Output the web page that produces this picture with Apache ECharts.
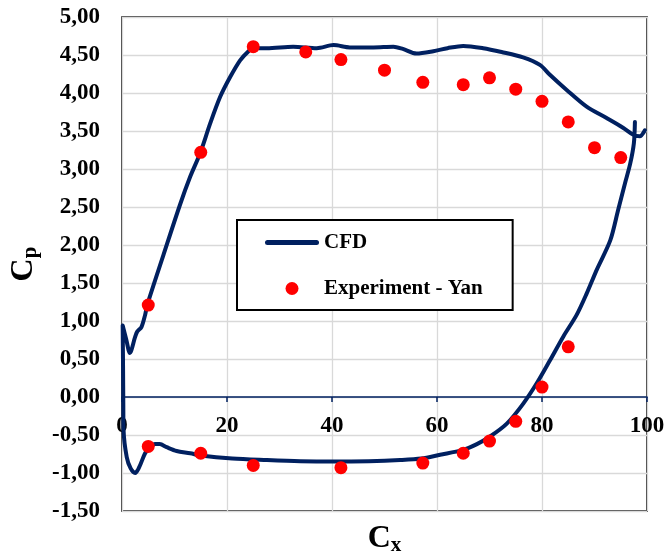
<!DOCTYPE html>
<html lang="en">
<head>
    <meta charset="UTF-8">
    <title>Cp - Cx</title>
    <script src="https://cdn.jsdelivr.net/npm/echarts@6/dist/echarts.min.js"></script>
    <style>
        body { margin: 0; background: #fff; }
        #main { width: 666px; height: 557px; }
    </style>
</head>
<body>
<div id="main"></div>
<script type="text/javascript">
    // CFD curve, upper side from trailing edge to leading edge
    const upperX = [99.6, 98.6, 97.4, 95.5, 92.3, 88.5, 84.7, 81.5, 79.6, 76.4, 72.3, 68.8, 65.0, 62.0, 59.3, 56.1, 53.5, 51.7, 47.9, 43.4,
        40.3, 37.1, 32.6, 27.6, 25.0, 24.1, 22.5, 20.6, 18.7, 16.8, 14.9, 13.0, 11.0, 7.9, 4.8, 4.4, 3.7, 2.9, 2.5, 1.5, 0.8, 0.13]
    const upperY = [3.51, 3.43, 3.45, 3.54, 3.67, 3.82, 4.04, 4.24, 4.37, 4.47, 4.54, 4.59, 4.62, 4.59, 4.55, 4.52, 4.58, 4.61, 4.60, 4.60,
        4.63, 4.59, 4.61, 4.59, 4.59, 4.55, 4.43, 4.21, 3.95, 3.60, 3.21, 2.90, 2.52, 1.87, 1.21, 1.08, 0.92, 0.86, 0.79, 0.58, 0.76, 0.94]
    // CFD curve, lower side from leading edge back to trailing edge
    const lowerX = [0.2, 0.25, 0.3, 0.9, 1.65, 2.5, 3.3, 4.4, 5.3, 6.3, 7.2, 8.5, 10.4, 13, 15, 21, 27.6, 34, 40, 47,
        53, 57, 60.6, 64.8, 67.6, 70.1, 73.3, 76.4, 79, 81.5, 84.1, 86.6, 88.5, 90.4, 93, 94.5, 95.8, 96.8, 97.5, 97.7]
    const lowerY = [0.40, -0.10, -0.44, -0.79, -0.94, -1.00, -0.92, -0.74, -0.66, -0.62, -0.62, -0.66, -0.71, -0.74, -0.77, -0.81, -0.83, -0.845, -0.85, -0.845,
        -0.83, -0.81, -0.76, -0.70, -0.62, -0.52, -0.35, -0.09, 0.18, 0.48, 0.80, 1.08, 1.36, 1.67, 2.06, 2.46, 2.81, 3.07, 3.34, 3.62]

    // Experiment - Yan
    const expX = [5, 15, 25, 35, 41.7, 50, 57.3, 65, 70, 75, 80, 85, 90, 95,
        5, 15, 25, 41.7, 57.3, 65, 70, 75, 80, 85]
    const expY = [1.21, 3.22, 4.61, 4.54, 4.44, 4.30, 4.14, 4.11, 4.20, 4.05, 3.89, 3.62, 3.28, 3.15,
        -0.65, -0.74, -0.90, -0.93, -0.87, -0.74, -0.58, -0.32, 0.13, 0.66]

    const xTicks = {min: 0, max: 100, step: 20}
    const yTicks = {min: -1.5, max: 5, step: 0.5}

    function zip(xs, ys) {
        return xs.map(function (x, i) {
            return [x, ys[i]];
        });
    }

    let cfdData = zip(upperX, upperY).concat(zip(lowerX, lowerY))
    let expData = zip(expX, expY)

    const serif = "'Liberation Serif', 'Times New Roman', serif"
    const navy = '#002060'

    let chart = echarts.init(document.getElementById('main'));
    let option = {
        animation: false,
        textStyle: {fontFamily: serif},
        grid: {
            left: 122,
            right: 19,
            top: 17,
            bottom: 46,
            outerBoundsMode: 'none',
            show: true,
            borderColor: '#000',
            borderWidth: 1.5
        },
        legend: {
            orient: 'vertical',
            left: 237,
            top: 220,
            padding: [12, 30, 11, 28],
            itemGap: 25,
            itemWidth: 54,
            itemHeight: 13,
            borderColor: '#000',
            borderWidth: 2,
            backgroundColor: '#fff',
            textStyle: {fontFamily: serif, fontWeight: 'bold', fontSize: 21, color: '#000'},
            data: [
                // a flat rounded bar stands in for the line sample
                {name: 'CFD', icon: 'path://M2.5,0H51.5A2.5,2.5 0 0 1 51.5,5H2.5A2.5,2.5 0 0 1 2.5,0Z'},
                {name: 'Experiment - Yan', icon: 'circle'}
            ]
        },
        xAxis: {
            type: 'value',
            min: xTicks.min,
            max: xTicks.max,
            interval: xTicks.step,
            // axis sits on Cp = 0: grid height 494 px, zero is 114 px above the bottom
            offset: -114,
            axisLine: {onZero: false, lineStyle: {color: navy, width: 1.5}},
            axisTick: {show: true, length: 5, lineStyle: {color: navy, width: 1.5}},
            axisLabel: {
                margin: 18,
                fontFamily: serif, fontWeight: 'bold', fontSize: 23, color: '#000'
            },
            splitLine: {show: true, lineStyle: {color: '#d9d9d9', width: 1.3}},
            name: '{c|C}{s|x}',
            nameLocation: 'middle',
            nameGap: 124,
            nameTextStyle: {
                rich: {
                    c: {fontFamily: serif, fontWeight: 'bold', fontSize: 32, color: '#000'},
                    s: {fontFamily: serif, fontWeight: 'bold', fontSize: 21, color: '#000', padding: [14, 0, 0, 0]}
                }
            }
        },
        yAxis: {
            type: 'value',
            min: yTicks.min,
            max: yTicks.max,
            interval: yTicks.step,
            axisLine: {show: false},
            axisTick: {show: false},
            axisLabel: {
                margin: 22,
                fontFamily: serif, fontWeight: 'bold', fontSize: 23, color: '#000',
                formatter: function (v) {
                    return v.toFixed(2).replace('.', ',');
                }
            },
            splitLine: {show: true, lineStyle: {color: '#d9d9d9', width: 1.3}},
            name: '{c|C}{s|p}',
            nameLocation: 'middle',
            nameGap: 68,
            nameTextStyle: {
                rich: {
                    c: {fontFamily: serif, fontWeight: 'bold', fontSize: 32, color: '#000'},
                    s: {fontFamily: serif, fontWeight: 'bold', fontSize: 21, color: '#000', padding: [14, 0, 0, 0]}
                }
            }
        },
        series: [{
            name: 'CFD',
            type: 'line',
            data: cfdData,
            smooth: 0.3,
            symbol: 'none',
            lineStyle: {color: navy, width: 4, cap: 'round', join: 'round'},
            itemStyle: {color: navy},
            z: 2
        }, {
            name: 'Experiment - Yan',
            type: 'scatter',
            data: expData,
            symbol: 'circle',
            symbolSize: 13,
            itemStyle: {color: '#ff0000', opacity: 1},
            z: 3
        }]
    };

    chart.setOption(option);
</script>
</body>
</html>
